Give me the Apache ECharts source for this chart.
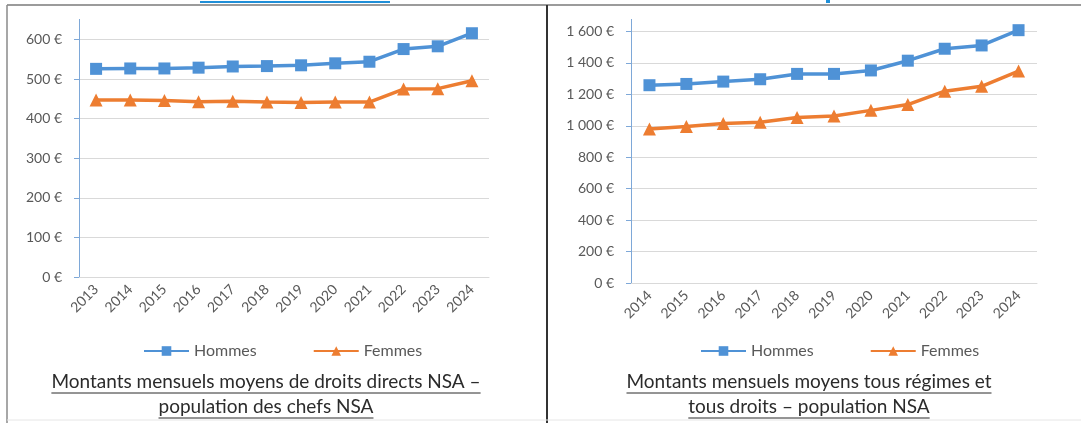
<!DOCTYPE html>
<html>
<head>
<meta charset="utf-8">
<script src="https://cdn.jsdelivr.net/npm/echarts@6/dist/echarts.min.js"></script>
<style>
  html, body { margin: 0; padding: 0; background: #fff; }
  #chart { width: 1081px; height: 423px; }
</style>
</head>
<body>
<div id="chart"></div>
<script>
// données - droits directs, chefs NSA
var years1 = ['2013', '2014', '2015', '2016', '2017', '2018', '2019', '2020', '2021', '2022', '2023', '2024'];
var hommes1 = [526, 527, 527, 529, 532, 533, 535, 540, 544, 576, 583, 616];
var femmes1 = [447, 447, 446, 443, 444, 442, 441, 442, 442, 475, 476, 496];

// données - tous régimes et tous droits, population NSA
var years2 = ['2014', '2015', '2016', '2017', '2018', '2019', '2020', '2021', '2022', '2023', '2024'];
var hommes2 = [1258, 1266, 1281, 1296, 1330, 1330, 1352, 1414, 1490, 1511, 1608];
var femmes2 = [980, 996, 1015, 1023, 1052, 1062, 1098, 1135, 1220, 1251, 1348];

var titre1 = ['Montants mensuels moyens de droits directs NSA \u2013', 'population des chefs NSA'];
var titre2 = ['Montants mensuels moyens tous r\u00e9gimes et', 'tous droits \u2013 population NSA'];

var BLEU = '#4f92d6';
var ORANGE = '#ed7d31';
var GRIS = '#595959';
var police = 'Lato, "Open Sans", sans-serif';

function euro(v) {
    var s = String(v).replace(/\B(?=(\d{3})+(?!\d))/g, '\u00a0');
    return s + '\u00a0\u20ac';
}

// largeur du texte pour le soulignement
var cv = document.createElement('canvas').getContext('2d');
cv.font = '19px Lato';
function largeur(t) { return cv.measureText(t).width; }

function titre(lignes, cx) {
    var els = [];
    lignes.forEach(function (t, i) {
        var y = 383 + i * 25;
        var w = largeur(t);
        els.push({
            type: 'text', left: cx - w / 2, top: y - 11,
            style: { text: t, font: '19px Lato', fill: '#2b2b2b' }
        });
        els.push({
            type: 'line', shape: { x1: cx - w / 2, y1: y + 10, x2: cx + w / 2, y2: y + 10 },
            style: { stroke: '#2b2b2b', lineWidth: 1 }
        });
    });
    return els;
}

function axeX(idx, data) {
    return {
        type: 'category', gridIndex: idx, data: data, boundaryGap: true,
        axisLine: { lineStyle: { color: '#d9d9d9' } },
        axisTick: { show: false },
        axisLabel: { rotate: 45, margin: 10, color: GRIS, fontSize: 14, fontFamily: police }
    };
}

function axeY(idx, max, step) {
    return {
        type: 'value', gridIndex: idx, min: 0, max: max, interval: step,
        axisLine: { show: true, lineStyle: { color: '#7ea8d8' } },
        axisTick: { show: true, length: 5, lineStyle: { color: '#7ea8d8' } },
        axisLabel: { color: GRIS, fontSize: 14, fontFamily: police, margin: 17, showMaxLabel: false, formatter: euro },
        splitLine: { lineStyle: { color: '#d9d9d9' } }
    };
}

function serie(nom, data, idx, symbole, couleur) {
    return {
        name: nom, type: 'line', xAxisIndex: idx, yAxisIndex: idx, data: data,
        symbol: symbole, symbolSize: symbole === 'rect' ? 12 : 13,
        lineStyle: { width: 3.5, color: couleur },
        itemStyle: { color: couleur },
        emphasis: { disabled: true }
    };
}

var legende = {
    itemWidth: 45, itemHeight: 12, itemGap: 56,
    textStyle: { color: GRIS, fontSize: 16, fontFamily: police }
};

var myChart = echarts.init(document.getElementById('chart'));

var option = {
    animation: false,
    grid: [
        { left: 79, right: 592, top: -1, bottom: 146 },
        { left: 631, right: 44, top: -6, bottom: 140 }
    ],
    xAxis: [axeX(0, years1), axeX(1, years2)],
    yAxis: [axeY(0, 700, 100), axeY(1, 1800, 200)],
    legend: [
        Object.assign({ left: 138, top: 338, data: [{ name: 'Hommes' }, { name: 'Femmes ' }] }, legende),
        Object.assign({ left: 695, top: 338, data: [{ name: 'Hommes\u200b' }, { name: 'Femmes\u200b' }] }, legende)
    ],
    series: [
        serie('Hommes', hommes1, 0, 'rect', BLEU),
        serie('Femmes ', femmes1, 0, 'triangle', ORANGE),
        serie('Hommes\u200b', hommes2, 1, 'rect', BLEU),
        serie('Femmes\u200b', femmes2, 1, 'triangle', ORANGE)
    ],
    graphic: [
        // haut recadré
        { type: 'rect', shape: { x: 0, y: 0, width: 1081, height: 19 }, style: { fill: '#fff' }, z: 10 },
        { type: 'rect', shape: { x: 200, y: 1, width: 190, height: 2 }, style: { fill: '#1f8fd8' }, z: 11 },
        { type: 'rect', shape: { x: 826, y: 0, width: 4, height: 3 }, style: { fill: '#1f8fd8' }, z: 11 },
        // cadres
        { type: 'line', shape: { x1: 7, y1: 5, x2: 1081, y2: 5 }, style: { stroke: '#7a7a7a', lineWidth: 1.5 }, z: 11 },
        { type: 'line', shape: { x1: 7, y1: 5, x2: 7, y2: 423 }, style: { stroke: '#8a8a8a', lineWidth: 1.5 }, z: 11 },
        { type: 'line', shape: { x1: 547, y1: 5, x2: 547, y2: 423 }, style: { stroke: '#333', lineWidth: 2 }, z: 11 },
        { type: 'line', shape: { x1: 7, y1: 420, x2: 1081, y2: 420 }, style: { stroke: '#e6e6e6', lineWidth: 1 }, z: 11 }
    ].concat(titre(titre1, 266)).concat(titre(titre2, 809))
};

myChart.setOption(option);
</script>
</body>
</html>
